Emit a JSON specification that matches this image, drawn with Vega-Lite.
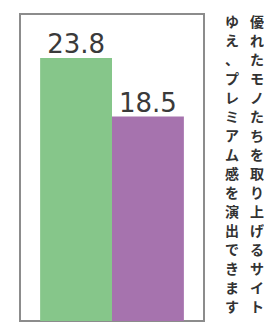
{
  "$schema": "https://vega.github.io/schema/vega-lite/v6.json",
  "padding": {"left": 19, "top": 13, "right": 0, "bottom": 3},
  "spacing": 5,
  "background": "white",
  "config": {"view": {"stroke": null}},
  "hconcat": [
    {
      "width": 184,
      "height": 307,
      "view": {"stroke": "#8c8c8c", "strokeWidth": 2},
      "data": {"values": [
        {"group": "A", "value": 23.8},
        {"group": "B", "value": 18.5}
      ]},
      "encoding": {
        "x": {"field": "group", "type": "nominal", "axis": null, "scale": {"paddingInner": 0, "paddingOuter": 0.28}},
        "y": {"field": "value", "type": "quantitative", "axis": null, "scale": {"domain": [0, 27.78], "nice": false}}
      },
      "layer": [
        {
          "mark": {"type": "bar"},
          "encoding": {
            "color": {"field": "group", "type": "nominal", "legend": null, "scale": {"range": ["#86C68A", "#A673AE"]}}
          }
        },
        {
          "mark": {"type": "text", "baseline": "alphabetic", "dy": -5, "fontSize": 26, "font": "DejaVu Sans", "color": "#3a3a3a"},
          "encoding": {"text": {"field": "value", "type": "quantitative", "format": ".1f"}}
        }
      ]
    },
    {
      "width": 56,
      "height": 307,
      "data": {"values": [
        {"col": 1, "top": 0, "text": "ゆ\nえ\n、\nプ\nレ\nミ\nア\nム\n感\nを\n演\n出\nで\nき\nま\nす"},
        {"col": 2, "top": 0, "text": "優\nれ\nた\nモ\nノ\nた\nち\nを\n取\nり\n上\nげ\nる\nサ\nイ\nト"}
      ]},
      "mark": {"type": "text", "lineBreak": "\n", "lineHeight": 19, "fontSize": 14, "fontWeight": "bold", "font": "Noto Sans CJK JP", "color": "#333333", "align": "center", "baseline": "top", "dy": 2, "clip": true},
      "encoding": {
        "x": {"field": "col", "type": "quantitative", "axis": null, "scale": {"domain": [0.12, 2.36], "nice": false, "zero": false}},
        "y": {"field": "top", "type": "quantitative", "axis": null, "scale": {"domain": [0, 1], "reverse": true, "nice": false}},
        "text": {"field": "text", "type": "nominal"}
      }
    }
  ]
}
